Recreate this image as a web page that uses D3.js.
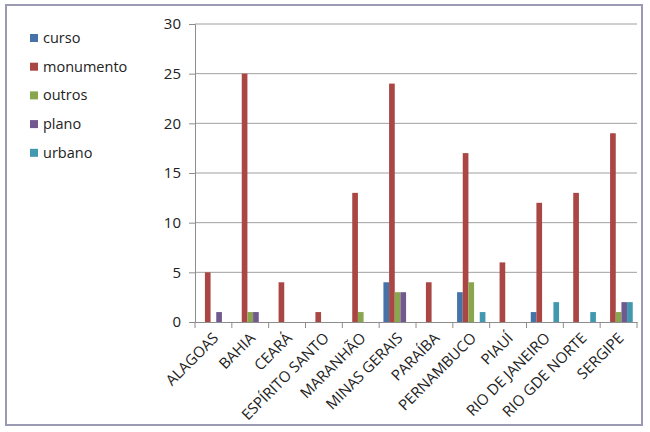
<!DOCTYPE html>
<html>
<head>
<meta charset="utf-8">
<script src="https://cdn.jsdelivr.net/npm/d3@7"></script>
<style>
  body { margin: 0; background: #fff; }
  text { font-family: 'Open Sans', sans-serif; fill: #222; }
</style>
</head>
<body>
<div id="chart"></div>
<script>
let estados = ['ALAGOAS', 'BAHIA', 'CEARÁ', 'ESPÍRITO SANTO', 'MARANHÃO', 'MINAS GERAIS',
  'PARAÍBA', 'PERNAMBUCO', 'PIAUÍ', 'RIO DE JANEIRO', 'RIO GDE NORTE', 'SERGIPE']
let series = ['curso', 'monumento', 'outros', 'plano', 'urbano']
let curso = [0, 0, 0, 0, 0, 4, 0, 3, 0, 1, 0, 0]
let monumento = [5, 25, 4, 1, 13, 24, 4, 17, 6, 12, 13, 19]
let outros = [0, 1, 0, 0, 1, 3, 0, 4, 0, 0, 0, 1]
let plano = [1, 1, 0, 0, 0, 3, 0, 0, 0, 0, 0, 2]
let urbano = [0, 0, 0, 0, 0, 0, 0, 1, 0, 2, 1, 2]
let yTicks = [0, 5, 10, 15, 20, 25, 30]

let colors = ['#4572A7', '#AA4643', '#89A54E', '#71588F', '#4198AF']
let values = [curso, monumento, outros, plano, urbano]

let width = 650
let height = 432
let margin = { top: 24, left: 195, right: 13, bottom: 110 }

let svg = d3
  .select('#chart')
  .append('svg')
  .attr('width', width)
  .attr('height', height)

// outer frame
svg
  .append('rect')
  .attr('x', 6)
  .attr('y', 5)
  .attr('width', 636)
  .attr('height', 420)
  .attr('fill', '#fff')
  .attr('stroke', '#9a9ab2')
  .attr('stroke-width', 2)

let x = d3
  .scaleBand()
  .domain(estados)
  .range([margin.left, width - margin.right])

// 5 bars, gap width 150%
let xInner = d3
  .scaleBand()
  .domain(series)
  .range([0, x.bandwidth()])
  .paddingOuter(0.75)

let y = d3
  .scaleLinear()
  .domain([0, 30])
  .range([height - margin.bottom, margin.top])

// gridlines
svg
  .append('g')
  .selectAll('line')
  .data(yTicks.slice(1))
  .enter()
  .append('line')
  .attr('x1', margin.left)
  .attr('x2', width - margin.right)
  .attr('y1', d => y(d))
  .attr('y2', d => y(d))
  .attr('stroke', '#a0a0a0')
  .attr('stroke-width', 1)

// bars
estados.forEach(function(estado, i) {
  let g = svg.append('g').attr('transform', `translate(${x(estado)},0)`)
  series.forEach(function(s, j) {
    let v = values[j][i]
    if (!v) return
    g.append('rect')
      .attr('x', xInner(s))
      .attr('width', xInner.bandwidth())
      .attr('y', y(v))
      .attr('height', y(0) - y(v))
      .attr('fill', colors[j])
  })
})

// y axis
let yAxis = svg
  .append('g')
  .attr('transform', `translate(${margin.left},0)`)
  .call(d3.axisLeft(y).tickValues(yTicks).tickSize(6).tickPadding(8))
yAxis.select('.domain').attr('stroke', '#8c8c8c')
yAxis.selectAll('.tick line').attr('stroke', '#8c8c8c')
yAxis
  .selectAll('.tick text')
  .attr('font-size', 15)
  .attr('font-family', 'Open Sans, sans-serif')
  .attr('fill', '#222')

// x axis
let xAxis = svg
  .append('g')
  .attr('transform', `translate(0,${y(0)})`)
  .call(d3.axisBottom(x).tickSize(0).tickFormat(''))
xAxis.select('.domain').attr('stroke', '#8c8c8c')
svg
  .append('g')
  .selectAll('line')
  .data(estados.concat(['end']))
  .enter()
  .append('line')
  .attr('x1', (d, i) => margin.left + i * x.step())
  .attr('x2', (d, i) => margin.left + i * x.step())
  .attr('y1', y(0))
  .attr('y2', y(0) + 6)
  .attr('stroke', '#8c8c8c')

svg
  .append('g')
  .selectAll('text')
  .data(estados)
  .enter()
  .append('text')
  .attr('transform', d => `translate(${x(d) + x.bandwidth() / 2 + 6},${y(0) + 17}) rotate(-45)`)
  .attr('text-anchor', 'end')
  .attr('font-size', 15)
  .text(d => d)

// legend
let legend = svg
  .append('g')
  .selectAll('g')
  .data(series)
  .enter()
  .append('g')
  .attr('transform', (d, i) => `translate(30,${38 + i * 28.7})`)
legend
  .append('rect')
  .attr('x', 0)
  .attr('y', -4)
  .attr('width', 8)
  .attr('height', 8)
  .attr('fill', (d, i) => colors[i])
legend
  .append('text')
  .attr('x', 13)
  .attr('y', 0)
  .attr('dy', '0.35em')
  .attr('font-size', 14.5)
  .text(d => d)
</script>
</body>
</html>
